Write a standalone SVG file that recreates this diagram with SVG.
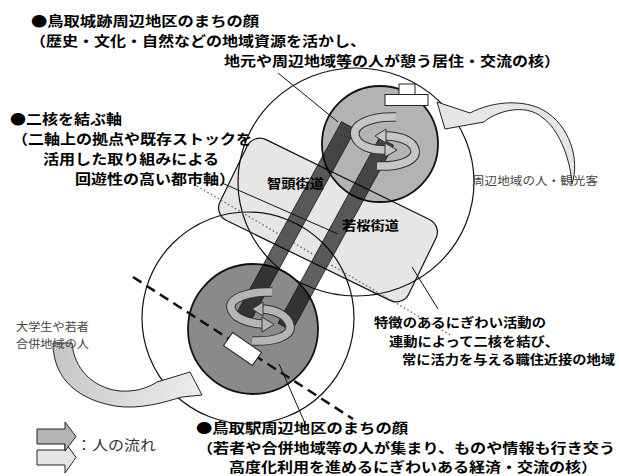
<svg xmlns="http://www.w3.org/2000/svg" width="619" height="476" viewBox="0 0 619 476">
<defs>
<style>
.b16{font-family:"Noto Sans CJK JP","Noto Sans",sans-serif;font-size:13.8px;font-weight:700;fill:#000}
.b13{font-family:"Noto Sans CJK JP","Noto Sans",sans-serif;font-size:13.4px;font-weight:700;fill:#000}
.b14{font-family:"Noto Sans CJK JP","Noto Sans",sans-serif;font-size:13px;font-weight:700;fill:#000}
.b12{font-family:"Noto Sans CJK JP","Noto Sans",sans-serif;font-size:12.6px;font-weight:700;fill:#000}
.n12{font-family:"Noto Sans CJK JP","Noto Sans",sans-serif;font-size:11.6px;font-weight:400;fill:#444}
.n15{font-family:"Noto Sans CJK JP","Noto Sans",sans-serif;font-size:14px;font-weight:400;fill:#333}
.ol{fill:none;stroke:#111;stroke-width:1.2}
.bar{fill:#000;fill-opacity:0.62;stroke:#111;stroke-width:0.8}
.lead{fill:none;stroke:#111;stroke-width:1}
.rb{fill:none;stroke:#333;stroke-width:9.5;stroke-linecap:butt}
.rf{fill:none;stroke-width:7.5;stroke-linecap:butt}
.wr{fill:#fff;stroke:#222;stroke-width:1}
.fl{stroke:#222;stroke-width:1}
</style>
<linearGradient id="gLL" gradientUnits="userSpaceOnUse" x1="55" y1="345" x2="195" y2="395">
<stop offset="0" stop-color="#c4c4c4"/>
<stop offset="1" stop-color="#ececec"/>
</linearGradient>
</defs>
<rect width="619" height="476" fill="#fff"/>

<g id="zone">
<rect x="223" y="175" width="210" height="90" rx="14" transform="rotate(26 328 220)" fill="#e6e6e6"/>
</g>

<g id="big-circles">
<ellipse cx="356" cy="182" rx="118" ry="114" class="ol"/>
<circle cx="248" cy="318" r="106" class="ol"/>
</g>

<g id="core-north">
<circle cx="380" cy="144" r="58" fill="#b3b3b3" stroke="#111" stroke-width="1.8"/>
</g>
<g id="core-south">
<circle cx="253" cy="329" r="65" fill="#8a8a8a" stroke="#111" stroke-width="1.8"/>
</g>

<g id="zone-outline">
<rect x="223" y="175" width="210" height="90" rx="14" transform="rotate(26 328 220)" class="ol"/>
</g>

<g id="connectors">
<line x1="133" y1="277" x2="353" y2="419" stroke="#111" stroke-width="2.5" stroke-dasharray="10 6"/>
</g>

<g id="axis-chizu">
<polygon class="bar" points="355.5,129.3 341.5,121.7 237.5,311.7 251.5,319.3"/>
</g>
<g id="axis-wakasa">
<polygon class="bar" points="393.5,145.3 379.5,137.7 278,323.2 292,330.8"/>
</g>

<g id="ring-north">
<path class="rb" d="M377,166 C398,167 417,161 415,150 C413,140 398,136 386,136"/>
<path class="rf" stroke="#c6c6c6" d="M377,166 C398,167 417,161 415,150 C413,140 398,136 386,136"/>
<polygon points="386,129 375,136 386,143" fill="#c6c6c6" stroke="#333" stroke-width="1"/>
<path class="rb" d="M396,117 C372,116 352,124 355,136 C358,146 371,150 385,150"/>
<path class="rf" stroke="#c6c6c6" d="M396,117 C372,116 352,124 355,136 C358,146 371,150 385,150"/>
<polygon points="385,143 397,150 385,157" fill="#c6c6c6" stroke="#333" stroke-width="1"/>
</g>
<g id="ring-south">
<path class="rb" d="M272,292 C250,291 229,298 231,308 C233,318 248,323 262,324"/>
<path class="rf" stroke="#b5b5b5" d="M272,292 C250,291 229,298 231,308 C233,318 248,323 262,324"/>
<polygon points="262,317 274,324.5 262,332" fill="#b5b5b5" stroke="#333" stroke-width="1"/>
<path class="rb" d="M252,341 C274,342 292,336 290,326 C288,315 275,310 263,309"/>
<path class="rf" stroke="#b5b5b5" d="M252,341 C274,342 292,336 290,326 C288,315 275,310 263,309"/>
<polygon points="263,302 252,309 263,316" fill="#b5b5b5" stroke="#333" stroke-width="1"/>
</g>

<g id="landmarks">
<rect class="wr" x="399" y="84" width="16" height="11"/>
<rect class="wr" x="385" y="94.5" width="43" height="11"/>
<rect class="wr" x="225" y="341" width="35" height="16" transform="rotate(34.6 242.5 349)"/>
</g>

<g id="leaders">
<line x1="197" y1="186" x2="452" y2="336" stroke="#666" stroke-width="1.3" stroke-dasharray="1.5 2.5"/>
<line class="lead" x1="278" y1="73" x2="338" y2="122"/>
<line class="lead" x1="222" y1="183" x2="338" y2="234"/>
<line class="lead" x1="412" y1="267" x2="438" y2="309"/>
<line class="lead" x1="279" y1="364" x2="304" y2="421"/>
</g>

<g id="flow-visitors">
<path class="fl" fill="#e6e6e6" d="M437,102 L445,129 L484,122 C495,112 525,102 543,118 C557,128 570,155 572,184 C580,160 570,125 543,110 C525,100 495,100 470,113 Z"/>
</g>
<g id="flow-students">
<path class="fl" fill="url(#gLL)" d="M72,343 C74,368 92,388 120,391 C135,392 148,388 157,382 L190,372 L202,395 L182,397 C165,402 140,410 115,406 C70,398 53,372 53,343 Z"/>
</g>

<g id="legend">
<polygon class="fl" fill="#e6e6e6" points="37,450 65,450 65,442 76,457.5 65,473 65,465 37,465"/>
<polygon class="fl" fill="#b4b4b4" points="37,429 65,429 65,422 76,436.5 65,451 65,444 37,444"/>
<text class="n15" x="76" y="450" textLength="80" lengthAdjust="spacingAndGlyphs">：人の流れ</text>
</g>

<g id="labels">
<text class="b16" x="31" y="26" textLength="228" lengthAdjust="spacingAndGlyphs">●鳥取城跡周辺地区のまちの顔</text>
<text class="b16" x="30" y="46" textLength="336" lengthAdjust="spacingAndGlyphs">（歴史・文化・自然などの地域資源を活かし、</text>
<text class="b16" x="224" y="66" textLength="336" lengthAdjust="spacingAndGlyphs">地元や周辺地域等の人が憩う居住・交流の核）</text>

<text class="b16" x="10" y="124" textLength="112" lengthAdjust="spacingAndGlyphs">●二核を結ぶ軸</text>
<text class="b16" x="12" y="144" textLength="240" lengthAdjust="spacingAndGlyphs">（二軸上の拠点や既存ストックを</text>
<text class="b16" x="43" y="164" textLength="176" lengthAdjust="spacingAndGlyphs">活用した取り組みによる</text>
<text class="b16" x="75" y="184" textLength="160" lengthAdjust="spacingAndGlyphs">回遊性の高い都市軸）</text>

<text class="b14" x="267" y="188" textLength="57" lengthAdjust="spacingAndGlyphs">智頭街道</text>
<text class="b14" x="342" y="230" textLength="57" lengthAdjust="spacingAndGlyphs">若桜街道</text>

<text class="n12" x="472" y="185" textLength="126" lengthAdjust="spacingAndGlyphs">周辺地域の人・観光客</text>
<text class="n12" x="16" y="331" textLength="73" lengthAdjust="spacingAndGlyphs">大学生や若者</text>
<text class="n12" x="16" y="348" textLength="73" lengthAdjust="spacingAndGlyphs">合併地域の人</text>

<text class="b12" x="374" y="327" textLength="172" lengthAdjust="spacingAndGlyphs">特徴のあるにぎわい活動の</text>
<text class="b12" x="389" y="345.5" textLength="170" lengthAdjust="spacingAndGlyphs">連動によって二核を結び、</text>
<text class="b12" x="402" y="364" textLength="213" lengthAdjust="spacingAndGlyphs">常に活力を与える職住近接の地域</text>

<text class="b13" x="196" y="433" textLength="212" lengthAdjust="spacingAndGlyphs">●鳥取駅周辺地区のまちの顔</text>
<text class="b13" x="197" y="452.5" textLength="418" lengthAdjust="spacingAndGlyphs">（若者や合併地域等の人が集まり、ものや情報も行き交う</text>
<text class="b13" x="229" y="472" textLength="368" lengthAdjust="spacingAndGlyphs">高度化利用を進めるにぎわいある経済・交流の核）</text>
</g>
</svg>
